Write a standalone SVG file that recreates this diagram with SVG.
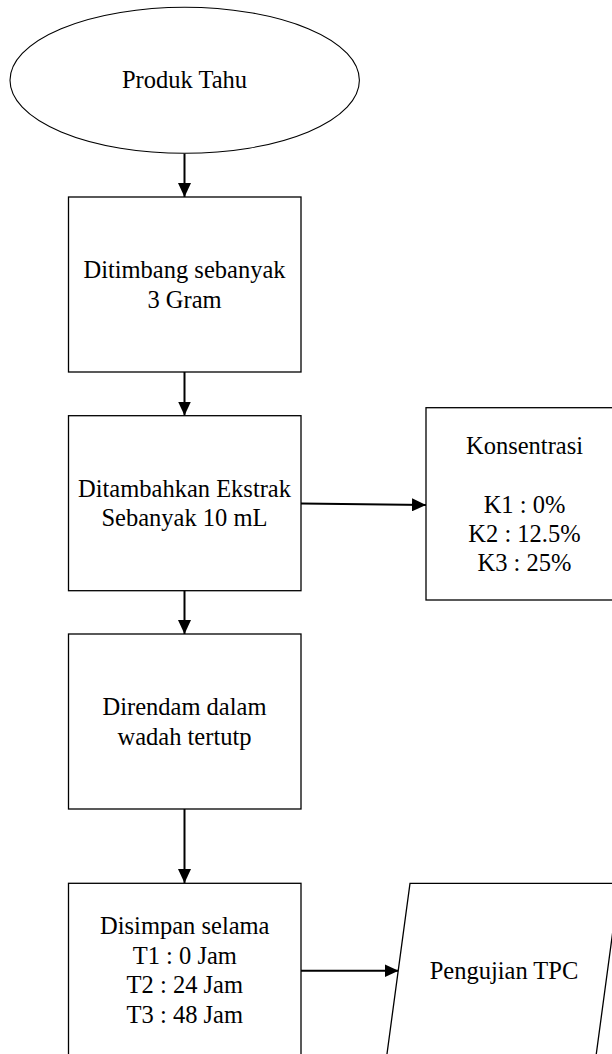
<svg xmlns="http://www.w3.org/2000/svg" width="612" height="1054" viewBox="0 0 612 1054">
<style>
.shape{fill:#fff;stroke:#000;stroke-width:1.3}
.conn{fill:none;stroke:#000;stroke-width:2;marker-end:url(#arrow)}
.t{font-family:'Liberation Serif','Tinos','Times New Roman','DejaVu Serif',serif;font-size:24.5px;fill:#000;text-anchor:middle}
</style>
<defs>
<marker id="arrow" markerUnits="userSpaceOnUse" markerWidth="14" markerHeight="13" refX="14" refY="6.5" orient="auto">
<path d="M0,0 L14,6.5 L0,13 z" fill="#000"/>
</marker>
</defs>
<rect width="612" height="1054" fill="#fff"/>
<g id="connectors">
<line class="conn" x1="184.5" y1="153.5" x2="184.5" y2="197"/>
<line class="conn" x1="184.5" y1="372" x2="184.5" y2="415.5"/>
<line class="conn" x1="301" y1="503.5" x2="426" y2="505"/>
<line class="conn" x1="184.5" y1="590.7" x2="184.5" y2="634"/>
<line class="conn" x1="184.5" y1="809" x2="184.5" y2="883"/>
<line class="conn" x1="301" y1="970.7" x2="398.5" y2="970.7"/>
</g>
<g id="produk-tahu">
<ellipse class="shape" cx="184.7" cy="80.3" rx="174.7" ry="73" style="stroke-width:1.1"/>
<text class="t" x="184.5" y="88.3">Produk Tahu</text>
</g>
<g id="ditimbang">
<rect class="shape" x="68.5" y="197" width="232.5" height="175"/>
<text class="t" x="184.5" y="277.7">Ditimbang sebanyak</text>
<text class="t" x="184.5" y="307.5">3 Gram</text>
</g>
<g id="ditambahkan">
<rect class="shape" x="68.5" y="415.7" width="232.5" height="175"/>
<text class="t" x="184.5" y="496.5">Ditambahkan Ekstrak</text>
<text class="t" x="184.5" y="526.3">Sebanyak 10 mL</text>
</g>
<g id="konsentrasi">
<rect class="shape" x="426" y="407.7" width="197" height="192.3"/>
<text class="t" x="524.5" y="454">Konsentrasi</text>
<text class="t" x="524.5" y="512.7">K1 : 0%</text>
<text class="t" x="524.5" y="541.7">K2 : 12.5%</text>
<text class="t" x="524.5" y="570.7">K3 : 25%</text>
</g>
<g id="direndam">
<rect class="shape" x="68.5" y="634" width="232.5" height="175"/>
<text class="t" x="184.5" y="715">Direndam dalam</text>
<text class="t" x="184.5" y="745">wadah tertutp</text>
</g>
<g id="disimpan">
<rect class="shape" x="68.5" y="883.3" width="232.5" height="175"/>
<text class="t" x="184.8" y="934.3">Disimpan selama</text>
<text class="t" x="184.8" y="964">T1 : 0 Jam</text>
<text class="t" x="184.8" y="993.3">T2 : 24 Jam</text>
<text class="t" x="184.8" y="1022.7">T3 : 48 Jam</text>
</g>
<g id="pengujian-tpc">
<polygon class="shape" points="410,883.3 619.3,883.3 595.7,1058.3 386.4,1058.3"/>
<text class="t" x="504" y="979.3">Pengujian TPC</text>
</g>
</svg>
